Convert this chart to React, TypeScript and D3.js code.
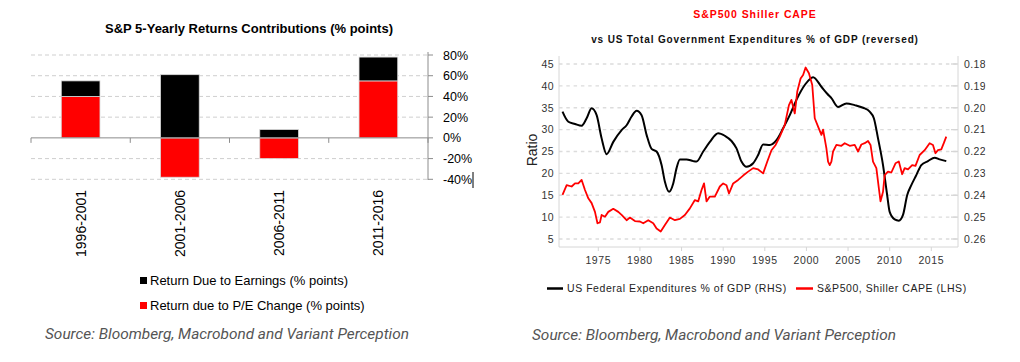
import React from "react";
import * as d3 from "d3";

// left chart data
const periods = ["1996-2001", "2001-2006", "2006-2011", "2011-2016"];
const earningsReturn = [15, 61, 8, 23];
const peReturn = [40, -38, -20, 55];
const pctTicks = [80, 60, 40, 20, 0, -20, -40];

// right chart data
const capeYears = [1970.7, 1971.2, 1971.8, 1972.2, 1972.6, 1973.0, 1973.4, 1973.8, 1974.2, 1974.6, 1974.9, 1975.2, 1975.4, 1975.8, 1976.2, 1976.8, 1977.4, 1977.8, 1978.4, 1978.8, 1979.4, 1980.0, 1980.4, 1981.0, 1981.6, 1982.0, 1982.5, 1983.0, 1983.6, 1984.2, 1984.8, 1985.4, 1986.0, 1986.6, 1987.0, 1987.4, 1987.7, 1988.0, 1988.4, 1989.0, 1989.6, 1990.0, 1990.4, 1990.7, 1991.2, 1991.8, 1992.4, 1993.0, 1993.6, 1994.2, 1994.8, 1995.3, 1995.8, 1996.3, 1996.8, 1997.4, 1997.9, 1998.2, 1998.6, 1998.9, 1999.3, 1999.6, 1999.9, 2000.3, 2000.7, 2001.0, 2001.4, 2001.8, 2002.0, 2002.4, 2002.6, 2002.8, 2003.0, 2003.2, 2003.6, 2004.2, 2004.6, 2005.2, 2005.8, 2006.2, 2006.6, 2007.0, 2007.4, 2007.7, 2008.0, 2008.4, 2008.7, 2008.9, 2009.2, 2009.4, 2009.8, 2010.2, 2010.7, 2011.1, 2011.5, 2011.8, 2012.2, 2012.7, 2013.1, 2013.6, 2014.2, 2014.8, 2015.2, 2015.5, 2015.8, 2016.2, 2016.5, 2016.8];
const capeValues = [15.1, 17.3, 17.0, 17.7, 17.7, 18.5, 16.2, 14.3, 13.2, 11.2, 8.6, 8.8, 10.5, 10.1, 11.2, 11.9, 11.2, 10.5, 9.3, 9.9, 9.1, 9.0, 8.6, 9.3, 8.6, 7.4, 6.7, 8.2, 9.9, 9.3, 9.6, 10.5, 12.0, 13.9, 13.6, 16.2, 17.7, 13.6, 14.7, 14.7, 17.0, 17.7, 17.3, 15.4, 17.7, 18.5, 19.5, 20.4, 21.2, 20.9, 20.0, 22.7, 25.3, 26.5, 28.4, 31.1, 35.6, 36.8, 33.7, 38.7, 41.7, 42.5, 44.2, 42.9, 40.2, 32.6, 30.7, 28.8, 30.0, 25.7, 22.7, 21.9, 22.7, 25.0, 26.5, 26.3, 26.9, 26.3, 26.5, 25.0, 26.6, 26.9, 27.4, 26.5, 22.7, 21.2, 16.6, 13.6, 15.8, 19.6, 20.4, 20.2, 22.3, 22.7, 19.8, 21.2, 20.9, 21.9, 21.7, 24.2, 25.3, 26.9, 26.5, 24.6, 25.3, 25.5, 26.9, 28.4];

const govYears = [1970.7, 1971.4, 1972.2, 1973.0, 1973.6, 1974.2, 1974.8, 1975.4, 1976.0, 1976.8, 1977.8, 1978.4, 1979.0, 1979.6, 1980.2, 1980.8, 1981.4, 1982.0, 1982.6, 1983.0, 1983.5, 1984.0, 1984.4, 1984.8, 1985.6, 1986.4, 1986.8, 1987.6, 1988.4, 1989.4, 1990.2, 1991.0, 1991.6, 1992.2, 1992.8, 1993.6, 1994.2, 1994.8, 1995.6, 1996.4, 1997.2, 1998.0, 1998.8, 1999.8, 2000.8, 2001.8, 2002.5, 2003.0, 2003.8, 2004.8, 2005.8, 2006.8, 2007.6, 2008.1, 2008.6, 2009.2, 2009.7, 2010.0, 2010.6, 2011.1, 2011.6, 2012.1, 2012.6, 2013.2, 2013.8, 2014.6, 2015.4, 2016.0, 2016.8];
const govValues = [0.2018, 0.2064, 0.2074, 0.2082, 0.2048, 0.2002, 0.2034, 0.214, 0.2212, 0.2156, 0.2102, 0.208, 0.204, 0.2014, 0.2034, 0.2124, 0.2188, 0.22, 0.2262, 0.2338, 0.2384, 0.2346, 0.2276, 0.2236, 0.2236, 0.2244, 0.2246, 0.22, 0.2156, 0.2116, 0.2128, 0.2152, 0.2186, 0.2246, 0.227, 0.2254, 0.2216, 0.2168, 0.217, 0.2148, 0.2094, 0.2034, 0.1964, 0.1896, 0.186, 0.1904, 0.1936, 0.1956, 0.1996, 0.198, 0.1988, 0.2, 0.2018, 0.2048, 0.214, 0.2262, 0.24, 0.2476, 0.251, 0.2516, 0.249, 0.24, 0.2354, 0.2308, 0.2262, 0.2244, 0.2228, 0.2236, 0.2244];

const leftTicks = [45, 40, 35, 30, 25, 20, 15, 10, 5];
const rightTicks = [0.18, 0.19, 0.2, 0.21, 0.22, 0.23, 0.24, 0.25, 0.26];
const yearTicks = [1975, 1980, 1985, 1990, 1995, 2000, 2005, 2010, 2015];

const SRC = "Source: Bloomberg, Macrobond and Variant Perception";

function BarChart() {
  const x = d3.scaleBand().domain(periods).range([31, 428]);
  const y = d3.scaleLinear().domain([-40, 80]).range([179.3, 55]);
  const rows = periods.map((p, i) => ({ period: p, pe: peReturn[i], earnings: earningsReturn[i] }));
  const stack = d3.stack<any>().keys(["pe", "earnings"]).offset(d3.stackOffsetDiverging);
  const series = stack(rows);
  const colors: Record<string, string> = { pe: "#ff0000", earnings: "#000000" };
  const bw = x.bandwidth() * 0.39;
  const font = "Arial, 'Liberation Sans', sans-serif";

  return (
    <g fontFamily={font}>
      <text x={249} y={33} textAnchor="middle" fontSize={13} fontWeight="bold">
        S&amp;P 5-Yearly Returns Contributions (% points)
      </text>
      {pctTicks.filter((t) => t !== 0).map((t) => (
        <line key={t} x1={31} x2={428} y1={y(t)} y2={y(t)} stroke="#cfcfcf" strokeDasharray="4,3" />
      ))}
      {series.map((s) =>
        s.map((d, i) => (
          <rect
            key={s.key + i}
            x={(x(periods[i]) as number) + (x.bandwidth() - bw) / 2}
            y={y(Math.max(d[0], d[1]))}
            width={bw}
            height={Math.abs(y(d[0]) - y(d[1]))}
            fill={colors[s.key]}
            stroke="#d9d9d9"
            strokeWidth={0.8}
          />
        ))
      )}
      <line x1={31} x2={428} y1={y(0)} y2={y(0)} stroke="#8c8c8c" strokeWidth={1} />
      {[...periods.map((p) => x(p) as number), 428].map((px, i) => (
        <line key={i} x1={px} x2={px} y1={y(0)} y2={y(0) + 5} stroke="#8c8c8c" />
      ))}
      <line x1={428} x2={428} y1={52} y2={180} stroke="#8c8c8c" />
      {pctTicks.map((t) => (
        <g key={t}>
          <line x1={428} x2={433} y1={y(t)} y2={y(t)} stroke="#8c8c8c" />
          <text x={443} y={y(t) + 4.5} fontSize={12.5}>
            {t}%
          </text>
        </g>
      ))}
      <line x1={473} x2={473} y1={172} y2={188} stroke="#000" strokeWidth={1} />
      {periods.map((p) => {
        const cx = (x(p) as number) + x.bandwidth() / 2;
        return (
          <text key={p} transform={`translate(${cx + 5},190) rotate(-90)`} textAnchor="end" fontSize={14}>
            {p}
          </text>
        );
      })}
      <rect x={140} y={277} width={7} height={7} fill="#000" />
      <text x={150} y={285} fontSize={13}>
        Return Due to Earnings (% points)
      </text>
      <rect x={140} y={302} width={7} height={7} fill="#ff0000" />
      <text x={150} y={310} fontSize={13}>
        Return due to P/E Change (% points)
      </text>
    </g>
  );
}

function LineChart() {
  const left = 559, right = 958, top = 56, bottom = 247;
  const x = d3.scaleLinear().domain([1975, 2015]).range([598.3, 931.3]);
  const yL = d3.scaleLinear().domain([5, 45]).range([239, 64]);
  const yR = d3.scaleLinear().domain([0.26, 0.18]).range([239, 64]);
  const capeLine = d3
    .line<number>()
    .x((_, i) => x(capeYears[i]))
    .y((v) => yL(v))(capeValues);
  const govLine = d3
    .line<number>()
    .x((_, i) => x(govYears[i]))
    .y((v) => yR(v))
    .curve(d3.curveMonotoneX)(govValues);
  const font = "Arial, 'Liberation Sans', sans-serif";
  const grey = "#d6d6d6";

  return (
    <g fontFamily={font}>
      <defs>
        <clipPath id="rclip">
          <rect x={958} y={40} width={27.5} height={220} />
        </clipPath>
      </defs>
      <text x={755} y={18} textAnchor="middle" fontSize={10.5} fontWeight="bold" fill="#ff0000" letterSpacing={0.9}>
        S&amp;P500 Shiller CAPE
      </text>
      <text x={755} y={43} textAnchor="middle" fontSize={10} fontWeight="bold" fill="#111" letterSpacing={0.85}>
        vs US Total Government Expenditures % of GDP (reversed)
      </text>
      {leftTicks.map((t) => (
        <line key={t} x1={left} x2={right} y1={yL(t)} y2={yL(t)} stroke="#dcdcdc" strokeWidth={1.3} strokeDasharray="3.5,3.8" />
      ))}
      <line x1={left} x2={left} y1={top} y2={bottom} stroke={grey} />
      <line x1={right} x2={right} y1={top} y2={bottom} stroke={grey} />
      <line x1={left} x2={right} y1={bottom} y2={bottom} stroke={grey} />
      {leftTicks.map((t) => (
        <text key={t} x={554} y={yL(t) + 3.8} textAnchor="end" fontSize={10.5} fill="#333" letterSpacing={0.4}>
          {t}
        </text>
      ))}
      {rightTicks.map((t) => (
        <g key={t}>
          <line x1={right - 7} x2={right} y1={yR(t)} y2={yR(t)} stroke={grey} strokeWidth={1.3} />
          <text x={964} y={yR(t) + 3.8} fontSize={10.5} fill="#333" letterSpacing={0.4} clipPath="url(#rclip)">
            {t.toFixed(2)}
          </text>
        </g>
      ))}
      {yearTicks.map((t) => (
        <g key={t}>
          <line x1={x(t)} x2={x(t)} y1={bottom} y2={bottom + 4} stroke={grey} />
          <text x={x(t)} y={264} textAnchor="middle" fontSize={10.5} fill="#333" letterSpacing={0.6}>
            {t}
          </text>
        </g>
      ))}
      <text transform="translate(537,150) rotate(-90)" textAnchor="middle" fontSize={14} fill="#222">
        Ratio
      </text>
      <path d={govLine || ""} fill="none" stroke="#000" strokeWidth={2} />
      <path d={capeLine || ""} fill="none" stroke="#ff0000" strokeWidth={1.8} strokeLinejoin="round" />
      <line x1={547} x2={563} y1={288.5} y2={288.5} stroke="#000" strokeWidth={2.5} />
      <text x={567} y={292} fontSize={10.5} fill="#222" letterSpacing={0.55}>
        US Federal Expenditures % of GDP (RHS)
      </text>
      <line x1={796} x2={813} y1={288.5} y2={288.5} stroke="#ff0000" strokeWidth={2.5} />
      <text x={817} y={292} fontSize={10.5} fill="#222" letterSpacing={0.55}>
        S&amp;P500, Shiller CAPE (LHS)
      </text>
    </g>
  );
}

export default function App() {
  return (
    <svg width={1020} height={362} style={{ position: "absolute", left: 0, top: 0, background: "#fff" }}>
      <rect width={1020} height={362} fill="#fff" />
      <BarChart />
      <LineChart />
      <text x={45} y={339} fontFamily="Roboto, sans-serif" fontStyle="italic" fontSize={15.4} fill="#555">
        {SRC}
      </text>
      <text x={532} y={340} fontFamily="Roboto, sans-serif" fontStyle="italic" fontSize={15.4} fill="#555">
        {SRC}
      </text>
    </svg>
  );
}
